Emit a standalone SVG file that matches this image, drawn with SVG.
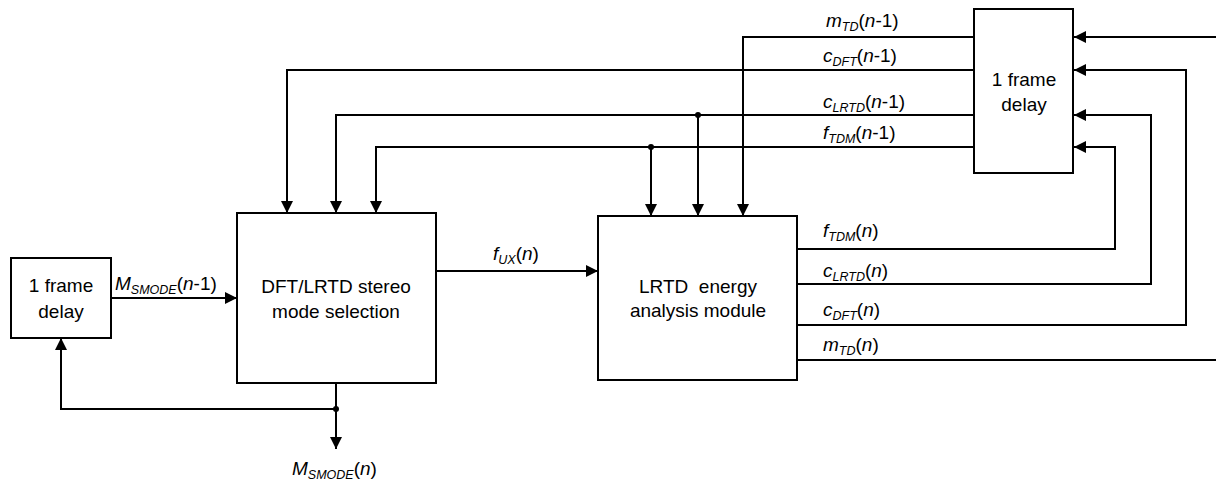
<svg xmlns="http://www.w3.org/2000/svg" width="1216" height="482" viewBox="0 0 1216 482">
<style>
  .box { fill: #fff; stroke: #000; stroke-width: 2; }
  .wire { fill: none; stroke: #000; stroke-width: 2; }
  .t { font-family: "Liberation Sans", Arial, sans-serif; font-size: 19px; fill: #000; }
  .c { text-anchor: middle; }
  .i { font-style: italic; }
  .s { font-style: italic; font-size: 12.5px; }
  .dot { fill: #000; }
</style>
<defs>
  <marker id="arr" markerUnits="userSpaceOnUse" markerWidth="12" markerHeight="12" viewBox="0 0 12 12" refX="12" refY="6" orient="auto">
    <path d="M0,0 L12,6 L0,12 z" fill="#000"/>
  </marker>
</defs>
<rect width="1216" height="482" fill="#fff"/>

<g id="connectors">
  <path class="wire" d="M111,298 H237" marker-end="url(#arr)"/>
  <path class="wire" d="M436,271 H598" marker-end="url(#arr)"/>
  <path class="wire" d="M336,383 V449" marker-end="url(#arr)"/>
  <path class="wire" d="M336,409 H61 V338" marker-end="url(#arr)"/>
  <circle class="dot" cx="336" cy="409" r="3"/>

  <path class="wire" d="M974,70 H287 V213" marker-end="url(#arr)"/>
  <path class="wire" d="M974,115 H336 V213" marker-end="url(#arr)"/>
  <path class="wire" d="M974,147 H376 V213" marker-end="url(#arr)"/>
  <path class="wire" d="M974,37 H743 V216" marker-end="url(#arr)"/>
  <path class="wire" d="M698,115 V216" marker-end="url(#arr)"/>
  <path class="wire" d="M651,147 V216" marker-end="url(#arr)"/>
  <circle class="dot" cx="698" cy="115" r="3"/>
  <circle class="dot" cx="651" cy="147" r="3"/>

  <path class="wire" d="M797,249 H1115 V147 H1074" marker-end="url(#arr)"/>
  <path class="wire" d="M797,284 H1151 V115 H1074" marker-end="url(#arr)"/>
  <path class="wire" d="M797,325 H1186 V70 H1074" marker-end="url(#arr)"/>
  <path class="wire" d="M797,360 H1216"/>
  <path class="wire" d="M1216,37 H1074" marker-end="url(#arr)"/>

  <text class="t" x="115" y="290"><tspan class="i">M</tspan><tspan class="s" dy="4">SMODE</tspan><tspan dy="-4">(</tspan><tspan class="i">n</tspan>-1)</text>
  <text class="t" x="493" y="260"><tspan class="i">f</tspan><tspan class="s" dy="4">UX</tspan><tspan dy="-4">(</tspan><tspan class="i">n</tspan>)</text>
  <text class="t" x="292" y="475"><tspan class="i">M</tspan><tspan class="s" dy="4">SMODE</tspan><tspan dy="-4">(</tspan><tspan class="i">n</tspan>)</text>

  <text class="t" x="826" y="27"><tspan class="i">m</tspan><tspan class="s" dy="4">TD</tspan><tspan dy="-4">(</tspan><tspan class="i">n</tspan>-1)</text>
  <text class="t" x="823" y="62"><tspan class="i">c</tspan><tspan class="s" dy="4">DFT</tspan><tspan dy="-4">(</tspan><tspan class="i">n</tspan>-1)</text>
  <text class="t" x="823" y="108"><tspan class="i">c</tspan><tspan class="s" dy="4">LRTD</tspan><tspan dy="-4">(</tspan><tspan class="i">n</tspan>-1)</text>
  <text class="t" x="823" y="139"><tspan class="i">f</tspan><tspan class="s" dy="4">TDM</tspan><tspan dy="-4">(</tspan><tspan class="i">n</tspan>-1)</text>

  <text class="t" x="823" y="237"><tspan class="i">f</tspan><tspan class="s" dy="4">TDM</tspan><tspan dy="-4">(</tspan><tspan class="i">n</tspan>)</text>
  <text class="t" x="823" y="277"><tspan class="i">c</tspan><tspan class="s" dy="4">LRTD</tspan><tspan dy="-4">(</tspan><tspan class="i">n</tspan>)</text>
  <text class="t" x="823" y="316"><tspan class="i">c</tspan><tspan class="s" dy="4">DFT</tspan><tspan dy="-4">(</tspan><tspan class="i">n</tspan>)</text>
  <text class="t" x="823" y="351"><tspan class="i">m</tspan><tspan class="s" dy="4">TD</tspan><tspan dy="-4">(</tspan><tspan class="i">n</tspan>)</text>
</g>

<g id="delay-left">
  <rect class="box" x="11" y="258" width="100" height="80"/>
  <text class="t c" x="61" y="292">1 frame</text>
  <text class="t c" x="61" y="318">delay</text>
</g>

<g id="mode-selection">
  <rect class="box" x="237" y="213" width="199" height="170"/>
  <text class="t c" x="336" y="293">DFT/LRTD stereo</text>
  <text class="t c" x="336" y="318">mode selection</text>
</g>

<g id="energy-analysis">
  <rect class="box" x="598" y="216" width="199" height="164"/>
  <text class="t c" x="698" y="293" xml:space="preserve">LRTD  energy</text>
  <text class="t c" x="698" y="317">analysis module</text>
</g>

<g id="delay-top">
  <rect class="box" x="974" y="9" width="99" height="164"/>
  <text class="t c" x="1024" y="86">1 frame</text>
  <text class="t c" x="1024" y="111">delay</text>
</g>
</svg>
